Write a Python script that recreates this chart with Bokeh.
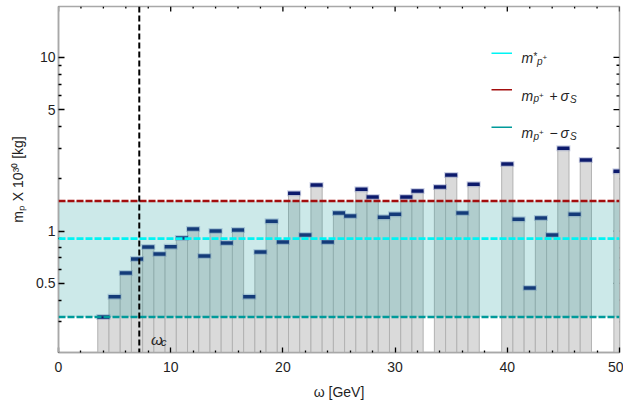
import math
from bokeh.plotting import figure
from bokeh.models import (Span, Label, FixedTicker, Range1d,
                          BoxAnnotation, NumeralTickFormatter, ColumnDataSource)
from bokeh.embed import file_html
from bokeh.resources import INLINE

# ---------------- data ----------------
omega = list(range(4, 33)) + [34, 35, 36, 37] + list(range(40, 48)) + [50]
mass = [0.32, 0.418, 0.574, 0.690, 0.809, 0.738, 0.812, 0.912, 1.027, 0.718,
        1.0, 0.853, 1.013, 0.418, 0.757, 1.14, 0.865, 1.65, 0.948, 1.84,
        0.865, 1.27, 1.22, 1.74, 1.57, 1.20, 1.25, 1.57, 1.70, 1.79,
        2.10, 1.27, 1.86, 2.43, 1.17, 0.47, 1.19, 0.948, 3.0, 1.25,
        2.56, 2.21]
mean_mass = 0.905
sigma_s = 0.585
omega_c = 7.2

x_major = [0, 10, 20, 30, 40, 50]
x_minor = [v for v in range(0, 51, 2) if v % 10 != 0]
y_major = [0.5, 1, 5, 10]
y_minor = [0.3, 0.4, 0.6, 0.7, 0.8, 0.9, 2, 3, 4, 6, 7, 8, 9]

# ---------------- layout ----------------
W, H = 623, 406
FL, FR, FT, FB = 58, 619, 6, 352
XMIN, XMAX = 0, 50
YMIN, YMAX = 0.2, 19.6
FONT = "Liberation Sans"
TXT = "#1f1f1f"

p = figure(width=W, height=H, x_range=Range1d(XMIN, XMAX), y_range=Range1d(YMIN, YMAX),
           y_axis_type="log", output_backend="svg", toolbar_location=None,
           min_border_left=FL, min_border_right=W - FR, min_border_top=FT,
           min_border_bottom=H - FB)
p.outline_line_color = "#a8a8a8"
p.outline_line_width = 1.5
p.xgrid.visible = False
p.ygrid.visible = False
p.background_fill_color = "white"
p.border_fill_color = "white"

def style_axis(ax, major_len, minor_len):
    ax.axis_line_color = "#a8a8a8"
    ax.axis_line_width = 1.5
    ax.major_tick_line_color = "black"
    ax.minor_tick_line_color = "black"
    ax.major_tick_line_width = 1.3
    ax.minor_tick_line_width = 1.3
    ax.major_tick_in = major_len
    ax.major_tick_out = 0
    ax.minor_tick_in = minor_len
    ax.minor_tick_out = 0
    ax.major_label_text_font = FONT
    ax.major_label_text_color = TXT
    ax.major_label_text_font_size = "14px"
    ax.axis_label_text_font = FONT
    ax.axis_label_text_font_size = "14px"
    ax.axis_label_text_font_style = "normal"
    ax.axis_label_text_color = TXT

xa = p.xaxis[0]
xa.ticker = FixedTicker(ticks=x_major, minor_ticks=x_minor)
style_axis(xa, 5, 2)
xa.major_label_standoff = 9
xa.axis_label = "\u03c9 [GeV]"
xa.axis_label_standoff = 9

ya = p.yaxis[0]
ya.ticker = FixedTicker(ticks=y_major, minor_ticks=y_minor)
ya.formatter = NumeralTickFormatter(format="0.[0]")
style_axis(ya, 6, 3)
ya.major_label_standoff = 3
ya.axis_label = "m\u209a X 10\u00b3\u2070 [kg]"
ya.axis_label_standoff = 7

# mirrored ticks on the top and right frame edges
p.ray(x=x_major, y=YMAX, length=5, length_units="screen", angle=-math.pi / 2,
      line_color="black", line_width=1.3)
p.ray(x=x_minor, y=YMAX, length=2, length_units="screen", angle=-math.pi / 2,
      line_color="black", line_width=1.3)
p.ray(x=XMAX, y=y_major, length=6, length_units="screen", angle=math.pi,
      line_color="black", line_width=1.3)
p.ray(x=XMAX, y=y_minor, length=3, length_units="screen", angle=math.pi,
      line_color="black", line_width=1.3)

# ---------------- bars ----------------
src = ColumnDataSource(dict(x=omega, top=mass))
p.vbar(x="x", top="top", bottom=0.01, width=1.0, source=src,
       fill_color="#dadada", line_color="#b2b2b2", line_width=1)

lo = mean_mass - sigma_s
hi = mean_mass + sigma_s
band = BoxAnnotation(bottom=lo, top=hi, fill_color="#2da5a5", fill_alpha=0.243,
                     line_color=None, level="glyph")
p.add_layout(band)

# markers
p.rect(x="x", y="top", width=1.25, height=6, height_units="screen", source=src,
       fill_color="#6f7fb8", fill_alpha=0.35, line_color=None)
p.rect(x="x", y="top", width=1.08, height=3.5, height_units="screen", source=src,
       fill_color="#0c1a6c", line_color=None)

# horizontal reference lines
p.add_layout(Span(location=hi, dimension="width", line_color="#a30e0e",
                  line_width=2.6, line_dash="7 2"))
p.add_layout(Span(location=mean_mass, dimension="width", line_color="#00f4f4",
                  line_width=2.6, line_dash="7 2"))
p.add_layout(Span(location=lo, dimension="width", line_color="#009a9a",
                  line_width=2.6, line_dash="7 2"))
p.add_layout(Span(location=omega_c, dimension="height", line_color="black",
                  line_width=2, line_dash="6 3"))

# ---------------- helpers ----------------
def px_to_data(cx, cy):
    x = XMIN + (cx - FL) / (FR - FL) * (XMAX - XMIN)
    ly = math.log10(YMIN) + (FB - cy) / (FB - FT) * (math.log10(YMAX) - math.log10(YMIN))
    return x, 10 ** ly

def txt(cx, cy, s, size, italic=False):
    p.add_layout(Label(x=cx - FL, y=FB - cy, x_units="screen", y_units="screen",
                       text=s, text_font=FONT, text_font_size=f"{size}px",
                       text_font_style="italic" if italic else "normal",
                       text_color=TXT, text_align="left", text_baseline="alphabetic"))

# legend lines
legend_rows = [(52.7, "#00f4f4"), (89.3, "#a30e0e"), (126.7, "#009a9a")]
for cy, col in legend_rows:
    x0, y0 = px_to_data(491, cy)
    x1, _ = px_to_data(511.5, cy)
    p.segment(x0=[x0], y0=[y0], x1=[x1], y1=[y0], line_color=col, line_width=1.6)

# legend texts
txt(521, 57.5, "m", 14, True)
txt(532.5, 55.5, "*", 10, True)
txt(536.5, 60.5, "p", 10, True)
txt(542, 57, "+", 8)
for base, op in ((95, "+"), (132.5, "\u2212")):
    txt(521, base, "m", 14, True)
    txt(533, base + 3, "p", 10, True)
    txt(538.5, base - 0.5, "+", 8)
    txt(549, base, op, 14)
    txt(560, base, "\u03c3", 14, True)
    txt(569.5, base + 3.5, "S", 10, True)

# omega_c label
txt(150.5, 339, "\u03c9", 15, True)
txt(160.5, 341, "c", 11, True)

open("out.html", "w").write(file_html(p, INLINE))
